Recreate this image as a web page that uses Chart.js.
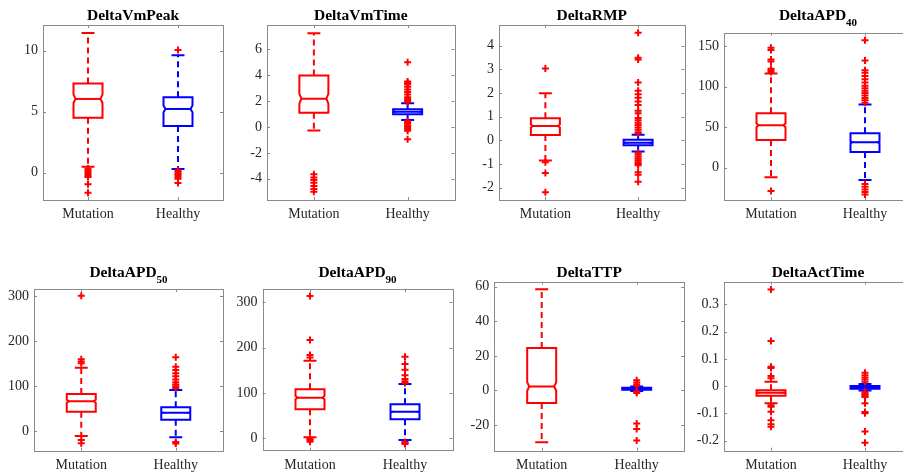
<!DOCTYPE html>
<html>
<head>
<meta charset="utf-8">
<script src="https://cdn.jsdelivr.net/npm/chart.js@4.4.1/dist/chart.umd.min.js"></script>
<style>
  html, body { margin: 0; padding: 0; background: #fff; width: 903px; height: 473px; overflow: hidden; position: relative; }
  canvas { position: absolute; }
</style>
</head>
<body>
<script>
// ---- data ----
const groups = ['Mutation', 'Healthy'];
const titles = ['DeltaVmPeak', 'DeltaVmTime', 'DeltaRMP', 'DeltaAPD', 'DeltaAPD', 'DeltaAPD', 'DeltaTTP', 'DeltaActTime'];
const titleSubs = ['', '', '', '40', '50', '90', '', ''];

const yMin = [-2.24, -5.64, -2.52, -39.8, -43, -27.4, -34.9, -0.237];
const yMax = [12.1, 7.87, 4.88, 166.4, 315.6, 328.7, 62.9, 0.383];
const yTicks = [
  [0, 5, 10],
  [-4, -2, 0, 2, 4, 6],
  [-2, -1, 0, 1, 2, 3, 4],
  [0, 50, 100, 150],
  [0, 100, 200, 300],
  [0, 100, 200, 300],
  [-20, 0, 20, 40, 60],
  [-0.2, -0.1, 0, 0.1, 0.2, 0.3]
];

// [Mutation, Healthy] per panel
const lowerWhisker = [[0.49, 0.3], [-0.28, 0.54], [-0.85, -0.47], [-11.8, -15.1], [-10.4, -13.3], [2.2, -3.8], [-30, -0.4], [-0.063, -0.016]];
const q1 = [[4.5, 3.83], [1.1, 0.98], [0.23, -0.21], [34, 19.3], [43.6, 25.8], [64, 41.9], [-7.3, 0.4], [-0.035, -0.01]];
const median = [[6.04, 5.22], [2.18, 1.18], [0.61, -0.1], [52.2, 31.3], [66.7, 41.3], [89.6, 58.7], [2.3, 1.0], [-0.024, -0.005]];
const q3 = [[7.3, 6.18], [3.97, 1.36], [0.94, 0.03], [67, 42.4], [83, 53.3], [108, 75], [24.5, 1.6], [-0.015, 0.0]];
const upperWhisker = [[11.45, 9.62], [7.23, 1.82], [1.99, 0.24], [116, 78], [140.7, 91.8], [171, 120], [58.5, 2.2], [0.016, 0.008]];
const notchLow = [[5.7, 4.95], [1.8, 1.14], [0.55, -0.12], [50, 30.2], [63.5, 40], [86, 57], [-0.2, 0.9], [-0.026, -0.006]];
const notchHigh = [[6.4, 5.5], [2.55, 1.22], [0.67, -0.08], [54.5, 32.4], [70, 42.6], [93.5, 60.4], [4.7, 1.1], [-0.022, -0.004]];

const outliersMutation = [
  [0.35, 0.2, 0.05, -0.1, -0.25, -0.35, -0.95, -1.65],
  [-3.65, -3.9, -4.1, -4.3, -4.55, -4.8, -5.0],
  [3.04, -0.92, -1.38, -2.19],
  [147.8, 145, 133.5, 131, 122, 120, 118, -28.7],
  [300.7, 160, 155, 151, -19.3, -26.7],
  [314, 217, 184, 178, -1, -4, -7.5],
  [],
  [0.354, 0.165, 0.071, 0.066, 0.037, 0.029, -0.07, -0.076, -0.094, -0.125, -0.14, -0.149]
];
const outliersHealthy = [
  [10.05, 0.2, 0.05, -0.1, -0.2, -0.35, -0.5, -0.85],
  [5.0, 3.5, 3.4, 3.3, 3.1, 2.9, 2.7, 2.5, 2.3, 2.15, 2.0, 1.9, 0.45, 0.35, 0.25, 0.1, 0.0, -0.15, -0.3, -0.95],
  [4.55, 3.5, 3.42, 2.45, 2.1, 1.95, 1.8, 1.65, 1.5, 1.25, 1.15, 0.95, 0.85, 0.75, 0.65, 0.55, 0.45, 0.35, 0.3,
   -0.52, -0.6, -0.68, -0.76, -0.84, -0.92, -1.0, -1.05, -1.35, -1.45, -1.75],
  [157, 132, 120, 117, 113, 109, 105, 101, 98, 95, 92, 89, 86, 83, 80, -20, -23.5, -27, -30, -33],
  [164.4, 143, 136, 129, 122, 115, 109, 104, 100, 96, -23.8, -27],
  [180, 164, 151, 139, 131, 126, 122, -8, -10.5, -12.6],
  [5.8, 4.6, 3.4, 2.7, -0.8, -1.5, -19.2, -22.3, -29],
  [0.049, 0.04, 0.032, 0.024, 0.016, -0.021, -0.026, -0.031, -0.036, -0.04, -0.063, -0.095, -0.1, -0.167, -0.208]
];

// ---- layout (page pixels) ----
const axesBox = [
  [43, 25, 223, 200], [267, 25, 455, 200], [499, 25, 685, 200], [724, 32.7, 912, 200],
  [34, 289, 223, 450.7], [262.5, 289.3, 452.5, 450.7], [494.2, 281.7, 684.2, 450.7], [724, 281.7, 912, 450.7]
];
const colX = [0, 230, 460, 690];
const colW = [230, 230, 230, 230];
const rowY = [0, 236];
const rowH = [236, 237];
const titleBase = [19.5, 276.8];

const boxColors = ['#ff0000', '#0000ff'];
const outlierColor = '#ff0000';
const frameColor = '#8a8a8a';
const labelColor = '#262626';
const FONT = "'Liberation Serif', 'Times New Roman', serif";

const boxPlugin = {
  id: 'boxes',
  beforeDatasetsDraw(chart, args, opts) {
    const { ctx, chartArea: a } = chart;
    const x = chart.scales.x, y = chart.scales.y;
    const i = opts.panel;
    ctx.save();
    // frame + inside ticks
    ctx.strokeStyle = frameColor;
    ctx.lineWidth = 1;
    ctx.strokeRect(Math.round(a.left) + 0.5, Math.round(a.top) + 0.5, Math.round(a.right - a.left), Math.round(a.bottom - a.top));
    ctx.beginPath();
    y.ticks.forEach(t => {
      const py = Math.round(y.getPixelForValue(t.value)) + 0.5;
      ctx.moveTo(a.left, py); ctx.lineTo(a.left + 3, py);
      ctx.moveTo(a.right, py); ctx.lineTo(a.right - 3, py);
    });
    groups.forEach((g, j) => {
      const px = Math.round(x.getPixelForValue(j)) + 0.5;
      ctx.moveTo(px, a.bottom); ctx.lineTo(px, a.bottom - 3);
      ctx.moveTo(px, a.top); ctx.lineTo(px, a.top + 3);
    });
    ctx.stroke();

    ctx.beginPath();
    ctx.rect(a.left, a.top, a.right - a.left, a.bottom - a.top);
    ctx.clip();
    const hw = 14.5, cap = 6.5, dent = 2;
    groups.forEach((g, j) => {
      const cx = x.getPixelForValue(j);
      const Y = v => y.getPixelForValue(v);
      ctx.strokeStyle = boxColors[j];
      ctx.lineWidth = 2;
      // whiskers
      ctx.setLineDash([6, 4]);
      ctx.beginPath();
      ctx.moveTo(cx, Y(q3[i][j])); ctx.lineTo(cx, Y(upperWhisker[i][j]));
      ctx.moveTo(cx, Y(q1[i][j])); ctx.lineTo(cx, Y(lowerWhisker[i][j]));
      ctx.stroke();
      ctx.setLineDash([]);
      ctx.beginPath();
      ctx.moveTo(cx - cap, Y(upperWhisker[i][j])); ctx.lineTo(cx + cap, Y(upperWhisker[i][j]));
      ctx.moveTo(cx - cap, Y(lowerWhisker[i][j])); ctx.lineTo(cx + cap, Y(lowerWhisker[i][j]));
      ctx.stroke();
      // notched box
      const yq1 = Y(q1[i][j]), yq3 = Y(q3[i][j]), ym = Y(median[i][j]);
      const ynl = Y(notchLow[i][j]), ynh = Y(notchHigh[i][j]);
      ctx.beginPath();
      ctx.moveTo(cx - hw, yq1);
      ctx.lineTo(cx - hw, ynl);
      ctx.lineTo(cx - hw + dent, ym);
      ctx.lineTo(cx - hw, ynh);
      ctx.lineTo(cx - hw, yq3);
      ctx.lineTo(cx + hw, yq3);
      ctx.lineTo(cx + hw, ynh);
      ctx.lineTo(cx + hw - dent, ym);
      ctx.lineTo(cx + hw, ynl);
      ctx.lineTo(cx + hw, yq1);
      ctx.closePath();
      ctx.stroke();
      ctx.beginPath();
      ctx.moveTo(cx - hw + dent, ym); ctx.lineTo(cx + hw - dent, ym);
      ctx.stroke();
    });
    ctx.restore();
  },
  afterDraw(chart, args, opts) {
    const { ctx, chartArea: a } = chart;
    const i = opts.panel;
    const mid = (a.left + a.right) / 2;
    ctx.save();
    ctx.fillStyle = '#000';
    ctx.textBaseline = 'alphabetic';
    ctx.textAlign = 'left';
    ctx.font = 'bold 15.5px ' + FONT;
    const mw = ctx.measureText(titles[i]).width;
    ctx.font = 'bold 11px ' + FONT;
    const sw = titleSubs[i] ? ctx.measureText(titleSubs[i]).width : 0;
    const start = mid - (mw + sw) / 2;
    const base = opts.titleY;
    ctx.font = 'bold 15.5px ' + FONT;
    ctx.fillText(titles[i], start, base);
    if (titleSubs[i]) {
      ctx.font = 'bold 11px ' + FONT;
      ctx.fillText(titleSubs[i], start + mw, base + 6.5);
    }
    ctx.restore();
  }
};

titles.forEach((t, i) => {
  const row = Math.floor(i / 4), col = i % 4;
  const cx = colX[col], cy = rowY[row], cw = colW[col], ch = rowH[row];
  const [l, tp, r, b] = axesBox[i];
  const canvas = document.createElement('canvas');
  canvas.width = cw; canvas.height = ch;
  canvas.style.left = cx + 'px'; canvas.style.top = cy + 'px';
  canvas.style.width = cw + 'px'; canvas.style.height = ch + 'px';
  document.body.appendChild(canvas);

  const padL = l - cx, padT = tp - cy, padR = cx + cw - r, padB = cy + ch - b;
  const outlierSet = (vals, g) => ({
    type: 'line',
    data: vals.map(v => ({ x: g, y: v })),
    showLine: false,
    pointStyle: 'cross',
    pointRadius: 3.5,
    pointBorderWidth: 2,
    pointBorderColor: outlierColor,
    borderColor: outlierColor,
    pointHoverRadius: 3.5
  });

  new Chart(canvas.getContext('2d'), {
    type: 'line',
    data: {
      labels: groups,
      datasets: [outlierSet(outliersMutation[i], groups[0]), outlierSet(outliersHealthy[i], groups[1])]
    },
    options: {
      responsive: false,
      animation: false,
      devicePixelRatio: 1,
      layout: { padding: { left: 0, top: padT, right: padR, bottom: 0 } },
      plugins: {
        legend: { display: false },
        tooltip: { enabled: false },
        boxes: { panel: i, titleY: titleBase[row] - cy }
      },
      scales: {
        x: {
          type: 'category',
          offset: true,
          grid: { display: false, drawTicks: false },
          border: { display: false },
          ticks: { color: labelColor, font: { family: FONT, size: 14 }, padding: 6, maxRotation: 0, autoSkip: false },
          afterFit: s => { s.height = padB; }
        },
        y: {
          type: 'linear',
          min: yMin[i],
          max: yMax[i],
          grid: { display: false, drawTicks: false },
          border: { display: false },
          ticks: { color: labelColor, font: { family: FONT, size: 14 }, padding: 5, callback: v => String(v) },
          afterBuildTicks: s => { s.ticks = yTicks[i].map(v => ({ value: v })); },
          afterFit: s => { s.width = padL; }
        }
      }
    },
    plugins: [boxPlugin]
  });
});
</script>
</body>
</html>
